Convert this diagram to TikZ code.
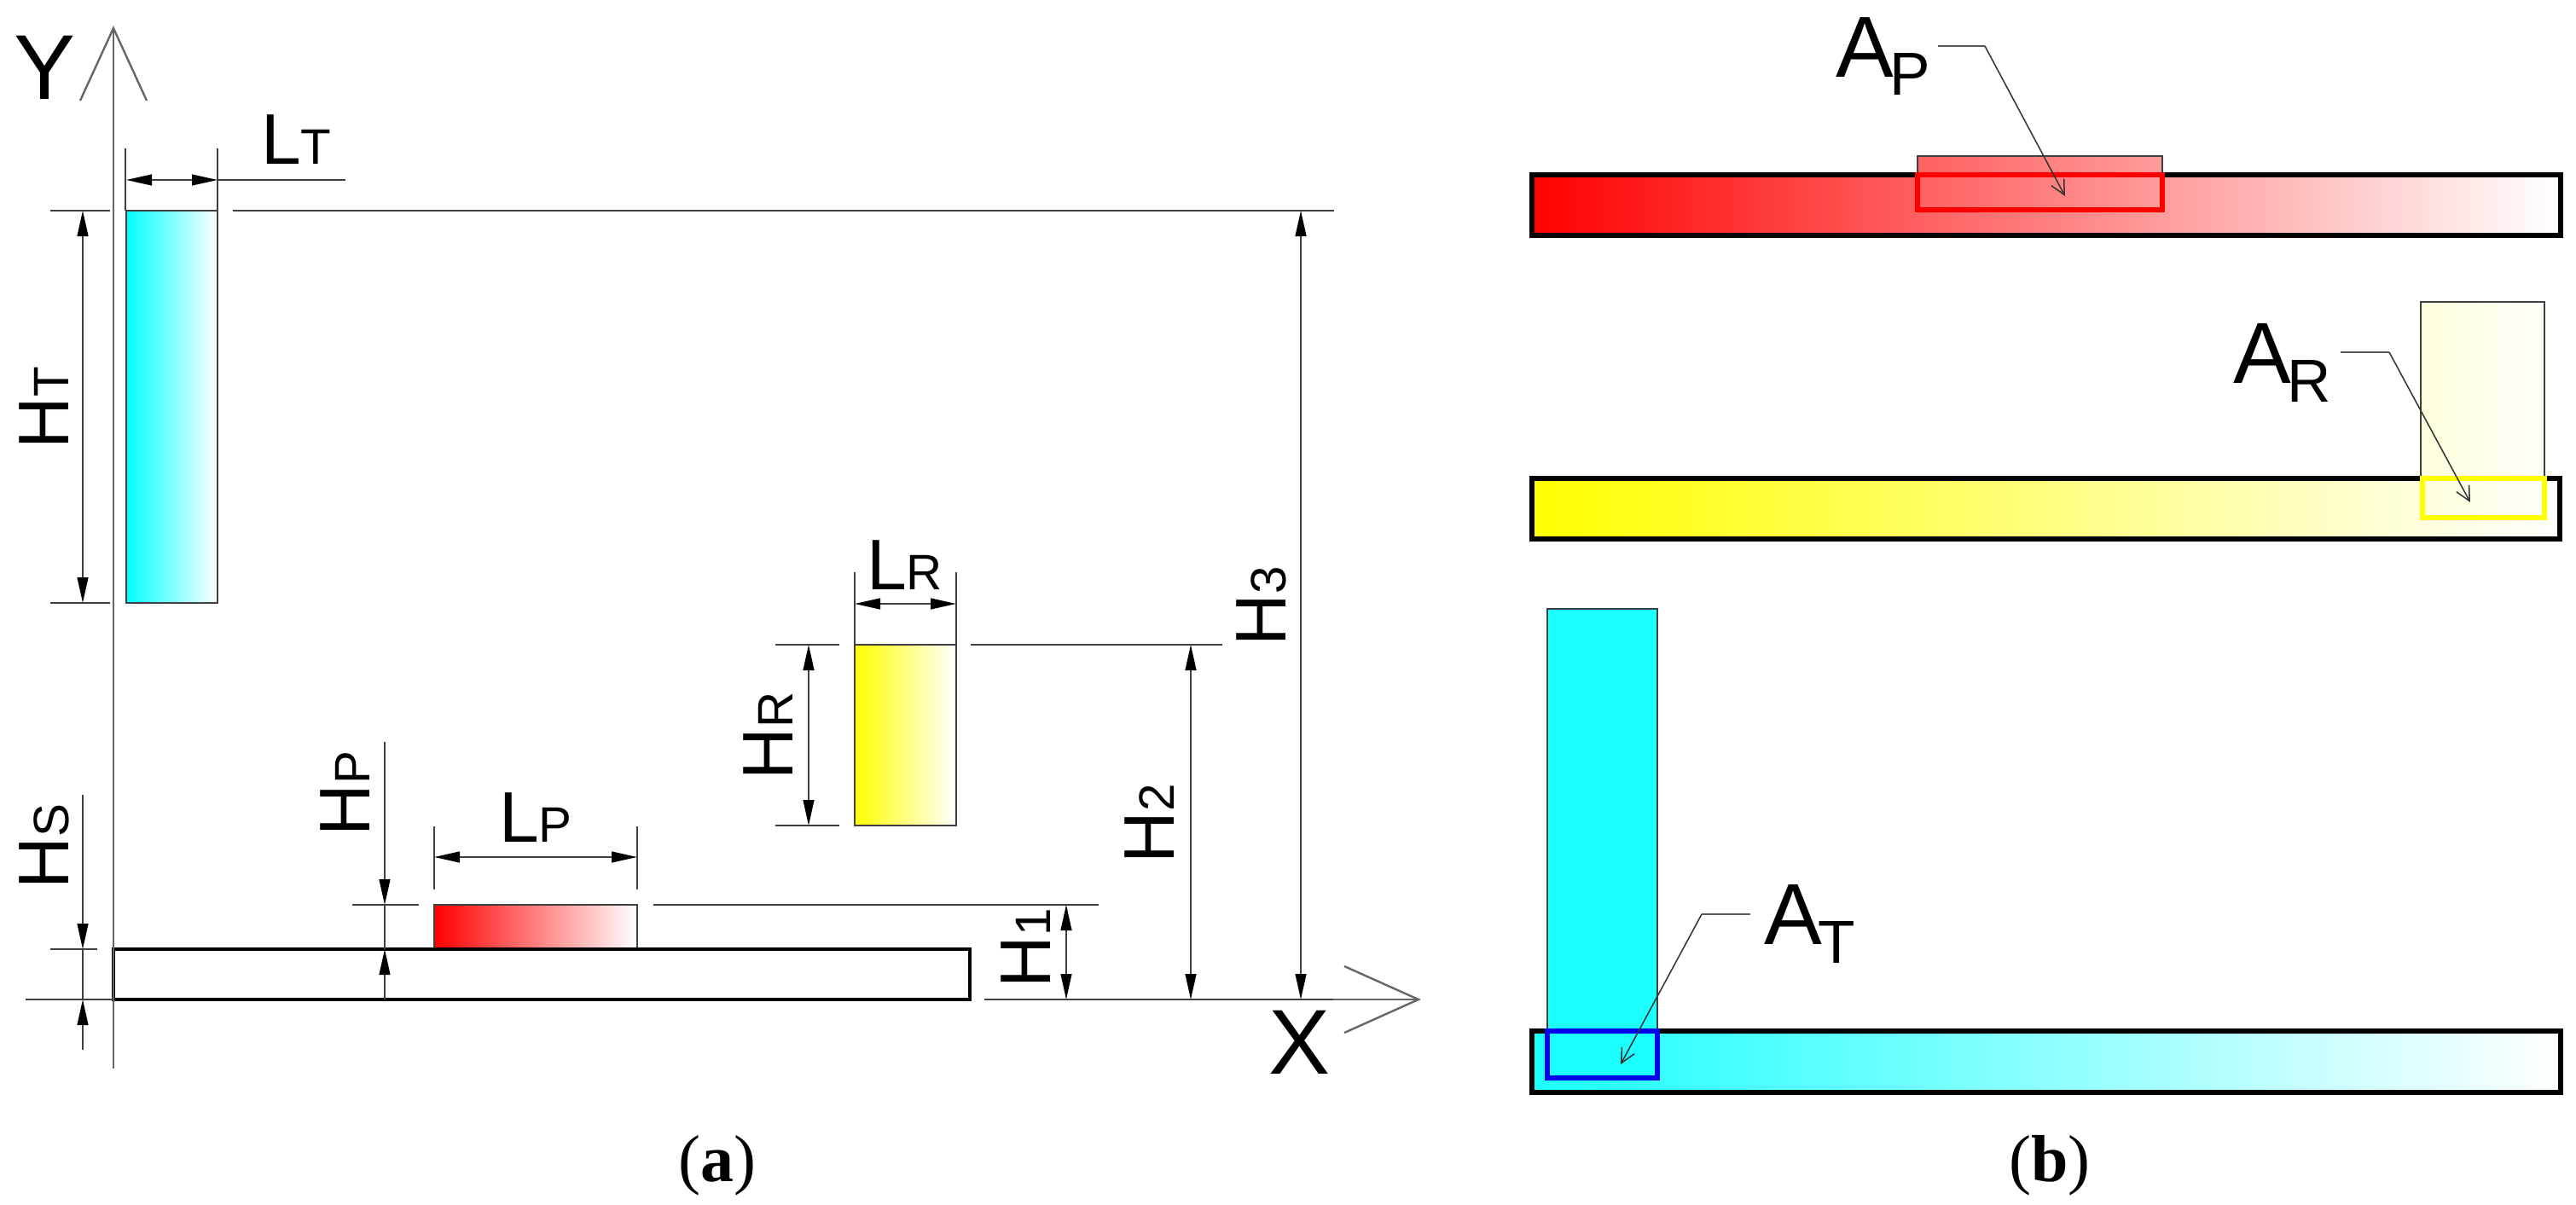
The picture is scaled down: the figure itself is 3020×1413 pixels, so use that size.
\documentclass[tikz,border=0pt]{standalone}
\usepackage{fontspec}
\setmainfont{Liberation Sans}
\newfontfamily\capserif{Liberation Serif}
\usetikzlibrary{arrows.meta}
\definecolor{cyanfull}{RGB}{0,255,255}
\definecolor{cyanbar}{RGB}{27,255,255}
\definecolor{redfull}{RGB}{255,0,0}
\definecolor{yellowfull}{RGB}{255,255,0}
\definecolor{bluefull}{RGB}{0,0,235}
\newcommand{\labbig}[2]{{\fontsize{21pt}{24pt}\selectfont #1}{\fontsize{14.6pt}{16pt}\selectfont #2}}
\newcommand{\labarea}[2]{{\fontsize{25.4pt}{28pt}\selectfont #1}\kern-1pt\raisebox{-5.5pt}{\fontsize{17.8pt}{20pt}\selectfont #2}}
\tikzset{
  thinln/.style={line width=.45pt,draw=black!75},
  axisln/.style={line width=.6pt,draw=black!60},
  dimln/.style={thinln,{Triangle[length=7.5pt,width=3.2pt,fill=black,color=black]}-{Triangle[length=7.5pt,width=3.2pt,fill=black,color=black]}},
  endtip/.style={thinln,-{Triangle[length=7.5pt,width=3.2pt,fill=black,color=black]}},
  lead/.style={line width=.38pt,draw=black!80,-{Straight Barb[length=4.2pt,width=4.2pt]}},
  leadin/.style={line width=.45pt,draw=black!65},
  partrect/.style={line width=.45pt,draw=black!75},
  basebar/.style={line width=1.05pt,draw=black},
  stripbar/.style={line width=1.3pt,draw=black},
  contact/.style={line width=1.35pt},
  txt/.style={inner sep=0pt,outer sep=0pt,anchor=base west},
  vtxt/.style={inner sep=0pt,outer sep=0pt,anchor=base west,rotate=90},
  captionlab/.style={inner sep=0pt,anchor=base,font=\capserif\fontsize{19.5pt}{22pt}\selectfont}
}
\begin{document}
\begin{tikzpicture}[x=.25pt,y=-.25pt]
\useasboundingbox (0,0) rectangle (3020,1413);
%% ----- panel (a) : coordinates
\coordinate (ytip) at (133,33);
\coordinate (ybot) at (133,1253);
\coordinate (yb1) at (94,118);
\coordinate (yb2) at (172,118);
\coordinate (xstart) at (1154,1172);
\coordinate (xmid) at (1563,1172);
\coordinate (xtip) at (1663,1172);
\coordinate (xb1) at (1576,1133);
\coordinate (xb2) at (1576,1211);
%% parts
\path[left color=cyanfull,right color=white] (148,247) rectangle (255,707);
\draw[partrect] (148,247) rectangle (255,707);
\path[left color=yellowfull,right color=white] (1002,756) rectangle (1121,968);
\draw[partrect] (1002,756) rectangle (1121,968);
\path[left color=redfull,right color=white] (509,1061) rectangle (747,1113);
\draw[partrect] (509,1061) rectangle (747,1113);
\draw[basebar] (133,1113) rectangle (1137,1172);
%% axes
\draw[axisln] (ytip) -- (ybot);
\draw[axisln] (yb1) -- (ytip) -- (yb2);
\draw[thinln] (xstart) -- (xmid);
\draw[axisln] (xmid) -- (xtip);
\draw[axisln] (xb1) -- (xtip) -- (xb2);
%% extension lines
\foreach \a/\b/\c/\d in {147/174/147/247,255/174/255/247,59/247/129/247,273/247/1564/247,59/707/129/707,
  509/969/509/1043,747/969/747/1043,1002/671/1002/756,1121/671/1121/756,
  909/756/984/756,909/968/984/968,1138/756/1433/756,413/1061/491/1061,766/1061/1288/1061,
  59/1113/114/1113,30/1172/133/1172}
  {\coordinate (e1) at (\a,\b); \coordinate (e2) at (\c,\d); \draw[thinln] (e1) -- (e2);}
%% dimension lines
\coordinate (ltl) at (148,211); \coordinate (ltr) at (255,211); \coordinate (ltend) at (405,211);
\draw[dimln] (ltl) -- (ltr); \draw[thinln] (ltr) -- (ltend);
\coordinate (htt) at (97,247); \coordinate (htb) at (97,707);
\draw[dimln] (htt) -- (htb);
\coordinate (lrl) at (1002,708); \coordinate (lrr) at (1121,708);
\draw[dimln] (lrl) -- (lrr);
\coordinate (hrt) at (948,756); \coordinate (hrb) at (948,968);
\draw[dimln] (hrt) -- (hrb);
\coordinate (lpl) at (509,1005); \coordinate (lpr) at (747,1005);
\draw[dimln] (lpl) -- (lpr);
\coordinate (h1t) at (1250,1061); \coordinate (h1b) at (1250,1172);
\draw[dimln] (h1t) -- (h1b);
\coordinate (h2t) at (1396,756); \coordinate (h2b) at (1396,1172);
\draw[dimln] (h2t) -- (h2b);
\coordinate (h3t) at (1525,247); \coordinate (h3b) at (1525,1172);
\draw[dimln] (h3t) -- (h3b);
\coordinate (hs0) at (97,932); \coordinate (hs1) at (97,1113);
\coordinate (hs2) at (97,1231); \coordinate (hs3) at (97,1172);
\draw[endtip] (hs0) -- (hs1); \draw[endtip] (hs2) -- (hs3); \draw[thinln] (hs1) -- (hs3);
\coordinate (hp0) at (451,870); \coordinate (hp1) at (451,1061);
\coordinate (hp2) at (451,1172); \coordinate (hp3) at (451,1113);
\draw[endtip] (hp0) -- (hp1); \draw[endtip] (hp2) -- (hp3); \draw[thinln] (hp1) -- (hp3);
%% labels (a)
\node[txt] (ylab) at (17,116) {\fontsize{27pt}{30pt}\selectfont Y};
\node[txt] (xlab) at (1487,1259) {\fontsize{27pt}{30pt}\selectfont X};
\node[txt] (lt) at (306,192) {\labbig{L}{T}};
\node[txt] (lp) at (585,987) {\labbig{L}{P}};
\node[txt] (lr) at (1016,691) {\labbig{L}{R}};
\node[vtxt] (ht) at (80,526) {\labbig{H}{T}};
\node[vtxt] (hs) at (80,1042) {\labbig{H}{S}};
\node[vtxt] (hp) at (433,980) {\labbig{H}{P}};
\node[vtxt] (hr) at (929,914) {\labbig{H}{R}};
\node[vtxt] (h1) at (1231,1158) {\labbig{H}{1}};
\node[vtxt] (h2) at (1376,1012) {\labbig{H}{2}};
\node[vtxt] (h3) at (1507,757) {\labbig{H}{3}};
\node[captionlab] (capa) at (841,1385) {(\textbf{a})};
\node[captionlab] (capb) at (2403,1385) {(\textbf{b})};
%% ----- panel (b)
%% top: red
\path[left color=redfull,right color=white] (1796,205) rectangle (3002,276);
\path[left color=redfull!62,right color=redfull!39] (2248,183) rectangle (2535,246);
\draw[partrect] (2248,183) rectangle (2535,205);
\draw[stripbar] (1796,205) rectangle (3002,276);
\draw[contact,draw=redfull] (2248,205) rectangle (2535,246);
\node[txt] (ap) at (2152,90) {\labarea{A}{P}};
\coordinate (ap1) at (2272,54); \coordinate (ap2) at (2327,54); \coordinate (ap3) at (2421,230);
\draw[leadin] (ap1) -- (ap2); \draw[lead] (ap2) -- (ap3);
%% middle: yellow
\path[left color=yellowfull,right color=white] (1796,561) rectangle (3001,632);
\path[left color=yellowfull!14,right color=yellowfull!2] (2838,354) rectangle (2983,607);
\draw[partrect] (2838,354) rectangle (2983,561);
\draw[stripbar] (1796,561) rectangle (3001,632);
\draw[contact,draw=yellowfull] (2840,561) rectangle (2983,607);
\node[txt] (ar) at (2618,449) {\labarea{A}{R}};
\coordinate (ar1) at (2744,413); \coordinate (ar2) at (2801,413); \coordinate (ar3) at (2896,589);
\draw[leadin] (ar1) -- (ar2); \draw[lead] (ar2) -- (ar3);
%% bottom: cyan
\path[left color=cyanbar,right color=white] (1796,1209) rectangle (3002,1281);
\path[fill=cyanbar] (1814,714) rectangle (1943,1264);
\draw[partrect] (1814,714) rectangle (1943,1209);
\draw[stripbar] (1796,1209) rectangle (3002,1281);
\draw[contact,draw=bluefull] (1814,1209) rectangle (1943,1264);
\node[txt] (at) at (2068,1107) {\labarea{A}{T}};
\coordinate (at1) at (2052,1072); \coordinate (at2) at (1995,1072); \coordinate (at3) at (1900,1248);
\draw[leadin] (at1) -- (at2); \draw[lead] (at2) -- (at3);
\end{tikzpicture}
\end{document}
